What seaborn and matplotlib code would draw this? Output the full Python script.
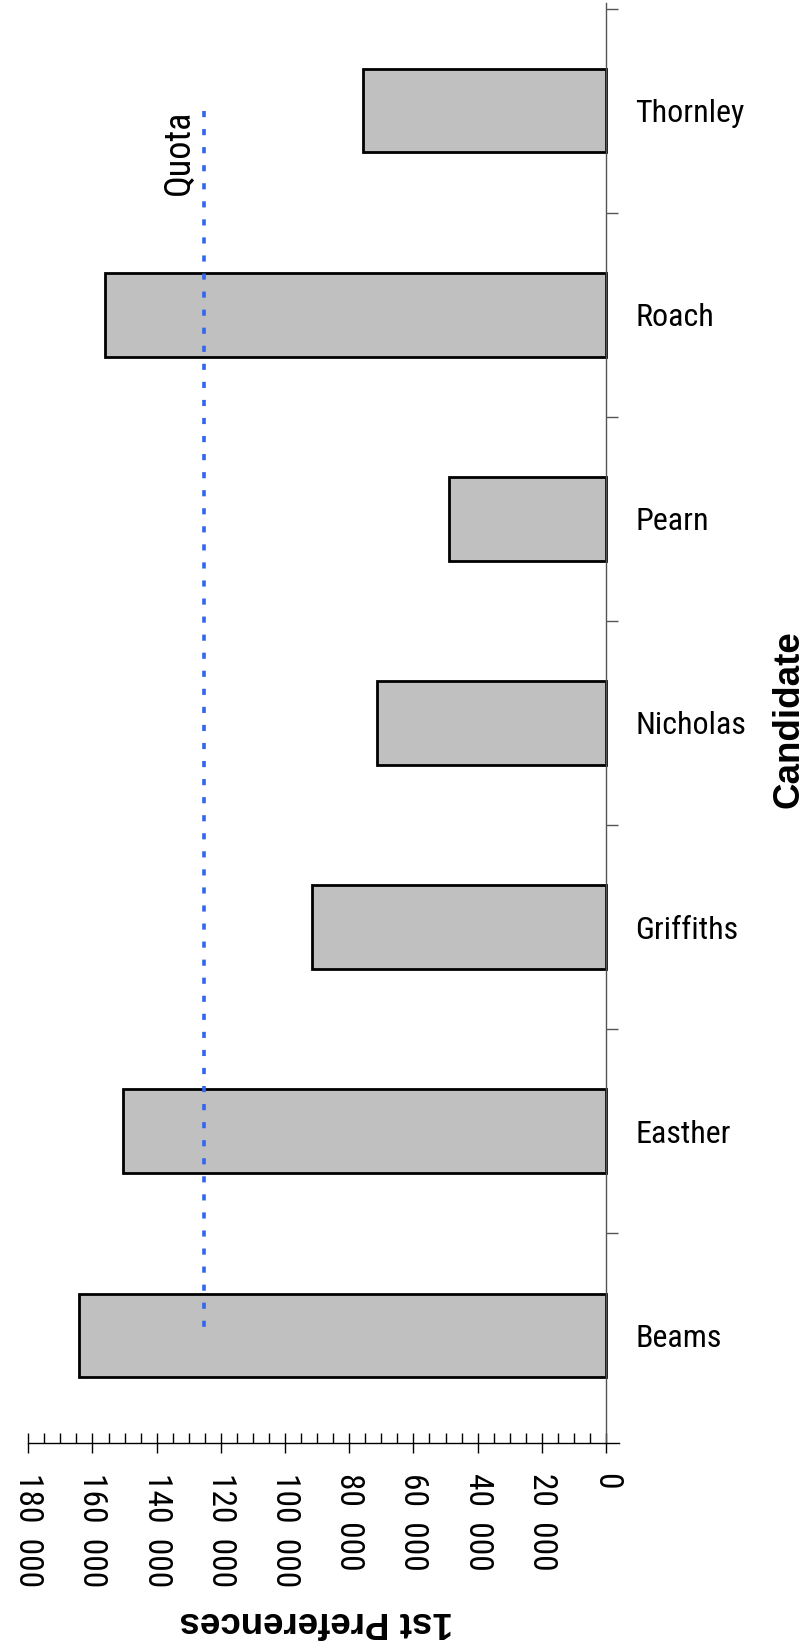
import numpy as np
import pandas as pd
import seaborn as sns
import matplotlib
matplotlib.use('Agg')
import matplotlib.pyplot as plt
from matplotlib import font_manager
from matplotlib.ticker import MultipleLocator, FuncFormatter

# Data
candidates = ['Beams', 'Easther', 'Griffiths', 'Nicholas', 'Pearn', 'Roach', 'Thornley']
first_prefs = [164300, 150400, 91700, 71300, 48800, 156000, 75800]
quota = 125300

df = pd.DataFrame({'Candidate': candidates, '1st Preferences': first_prefs})
order = candidates[::-1]  # Thornley on top

sns.set_theme(style='white')

# the chart uses a narrow sans; pick whichever condensed face is installed
installed = {f.name for f in font_manager.fontManager.ttflist}
narrow = next((n for n in ['Liberation Sans Narrow', 'Roboto Condensed',
                           'Open Sans Condensed', 'DejaVu Sans Condensed']
               if n in installed), None)
if narrow:
    fscale = 1.0
    plt.rcParams['font.family'] = [narrow, 'Liberation Sans', 'DejaVu Sans']
else:
    fscale = 0.86
    plt.rcParams['font.family'] = ['Liberation Sans', 'DejaVu Sans']
for k in ['text.color', 'axes.labelcolor', 'xtick.color', 'ytick.color']:
    plt.rcParams[k] = 'black'

fig = plt.figure(figsize=(8.04, 16.48), dpi=100)
ax = fig.add_axes([0.0352, 0.1246, 0.7345, 0.8734])

sns.barplot(data=df, x='1st Preferences', y='Candidate', order=order, orient='h',
            color='#c0c0c0', saturation=1, width=0.41,
            edgecolor='black', linewidth=2, ax=ax)

# quota marker
ax.vlines(quota, 0, len(candidates) - 1, colors='#3366ee', linewidth=2.6,
          linestyles=(0, (1.7, 3.3)))
ax.annotate('Quota', xy=(quota, 0), xytext=(-5, 0.5), textcoords='offset points',
            rotation=90, ha='right', va='top', fontsize=26 * fscale, color='black')

# value axis (runs right to left)
ax.set_xlim(180000, -4000)
ax.xaxis.set_major_locator(MultipleLocator(20000))
ax.xaxis.set_minor_locator(MultipleLocator(5000))
ax.xaxis.set_major_formatter(FuncFormatter(lambda v, p: f'{v:,.0f}'.replace(',', '  ')))
ax.tick_params(axis='x', which='major', bottom=True, direction='inout', length=15,
               width=1, pad=14, labelsize=24 * fscale, labelrotation=-90, color='black')
ax.tick_params(axis='x', which='minor', bottom=True, direction='in', length=7,
               width=1, color='black')

# candidate axis on the right, at zero
for s in ['left', 'top']:
    ax.spines[s].set_visible(False)
ax.spines['right'].set_position(('data', 0))
ax.spines['right'].set_color('#555555')
ax.spines['right'].set_linewidth(1)
ax.spines['bottom'].set_color('black')
ax.spines['bottom'].set_linewidth(1)
ax.yaxis.tick_right()
ax.set_yticks(np.arange(-0.5, len(candidates) - 1), minor=True)
ax.tick_params(axis='y', which='major', length=0, pad=21, labelsize=23 * fscale, left=False)
ax.tick_params(axis='y', which='minor', right=True, left=False, direction='out',
               length=8.5, width=1, color='#555555')
ax.grid(False)

ax.set_xlabel('1st Preferences', fontsize=26.5, fontweight='bold',
              family='Liberation Sans', rotation=180)
ax.xaxis.set_label_coords(0.487, -0.112)
ax.yaxis.set_label_position('right')
ax.set_ylabel('Candidate', fontsize=26.5, fontweight='bold', family='Liberation Sans',
              rotation=90)
ax.yaxis.set_label_coords(1.259, 0.503)

plt.savefig('out.png', dpi=100)
